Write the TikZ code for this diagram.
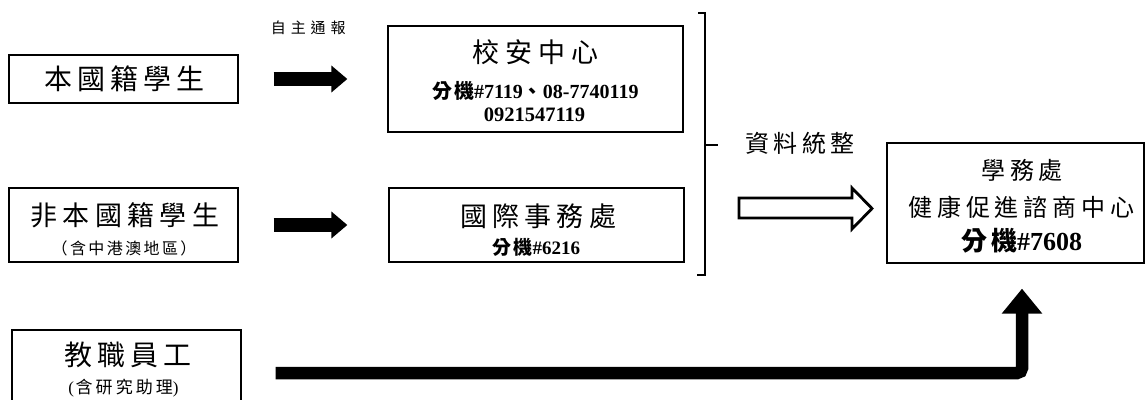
\documentclass[tikz,border=0pt]{standalone}
\usepackage{fontspec}
\setmainfont{Liberation Serif}
\newfontfamily\cjk{Noto Sans CJK TC}
\usetikzlibrary{arrows.meta}
\newcommand\lsp[3]{{\fontsize{#1}{#1}\selectfont\cjk\addfontfeatures{LetterSpace=#2}\kern\dimexpr #1pt*#2/200\relax #3}}
\begin{document}
\begin{tikzpicture}[x=1pt,y=-1pt,
  box/.style={draw, line width=1.3pt, inner sep=0pt, rectangle},
  txt/.style={inner sep=0pt},
  fat/.style={line width=14pt, -{Triangle[length=16pt,width=26pt]}},
  bigL/.style={line width=12.5pt, rounded corners=5pt, -{Triangle[length=25pt,width=39pt]}},
  brk/.style={line width=2.8pt, line join=miter}]
\path[use as bounding box, clip] (0,0) rectangle (1146,399);
\fill[white] (0,0) rectangle (1146,399);
% boxes
\node[box, minimum width=229pt, minimum height=48pt] (b1) at (123.5,79) {};
\node[box, minimum width=295pt, minimum height=106pt] (b2) at (535.5,79) {};
\node[box, minimum width=229pt, minimum height=74pt] (b3) at (123.5,225) {};
\node[box, minimum width=295pt, minimum height=74pt] (b4) at (536.5,225) {};
\node[box, minimum width=229pt, minimum height=86pt] (b5) at (126.5,373) {};
\node[box, minimum width=257pt, minimum height=120pt] (b6) at (1015.5,203) {};
% texts
\node[txt] (t1) at (123.5,79) {\lsp{28}{18}{本國籍學生}};
\node[txt] (t2) at (534,52) {\lsp{27}{22}{校安中心}};
\node[txt] (t2a) at (535.5,91) {\fontsize{20}{20}\selectfont\bfseries{\cjk\addfontfeatures{LetterSpace=8}分機}\#7119{\cjk 、}08-7740119};
\node[txt] (t2b) at (534.5,115) {\fontsize{20.5}{20.5}\selectfont\bfseries 0921547119};
\node[txt] (t3) at (123.5,215) {\lsp{27}{20}{非本國籍學生}};
\node[txt] (t3a) at (123.5,248) {\lsp{16}{15}{（含中港澳地區）}};
\node[txt] (t4) at (537,216) {\lsp{27}{19}{國際事務處}};
\node[txt] (t4a) at (536.5,247) {\fontsize{19}{19}\selectfont\bfseries{\cjk\addfontfeatures{LetterSpace=10}分機}\#6216};
\node[txt] (t5) at (127,355) {\lsp{28}{18}{教職員工}};
\node[txt] (t5a) at (123.5,388) {\fontsize{17}{17}\selectfont(\lsp{17}{18}{含研究助理})};
\node[txt] (t6) at (1021,170) {\lsp{24}{18}{學務處}};
\node[txt] (t6a) at (1020,207) {\lsp{24}{20}{健康促進諮商中心}};
\node[txt] (t6b) at (1022,241) {\fontsize{26}{26}\selectfont\bfseries{\cjk\addfontfeatures{LetterSpace=12}分機}\#7608};
\node[txt] (lab1) at (307,28) {\lsp{15}{33}{自主通報}};
\node[txt] (lab2) at (799,143) {\lsp{24}{17}{資料統整}};
% arrows
\draw[fat] ([xshift=35pt]b1.east) -- ([xshift=-40pt]b2.west);
\draw[fat] ([xshift=35pt]b3.east) -- ([xshift=-41pt]b4.west);
\draw[bigL] ([xshift=34pt]b5.east) -| ([xshift=6.5pt,yshift=-25pt]b6.south);
% bracket
\draw[brk] (698,13) -- (705,13) -- (705,275) -- (697,275);
\draw[brk] (705,145) -- (718,145);
% hollow arrow
\draw[brk, fill=white] (739,198) -- (852,198) -- (852,188) -- (872,208.5) -- (852,229) -- (852,218) -- (739,218) -- cycle;
\end{tikzpicture}
\end{document}
